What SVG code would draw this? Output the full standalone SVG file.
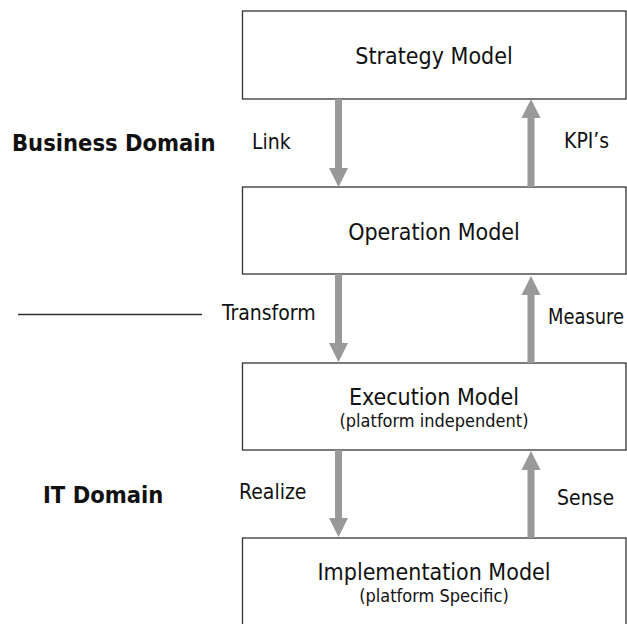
<svg xmlns="http://www.w3.org/2000/svg" width="627" height="624" viewBox="0 0 627 624">
<defs>
<style>
text{font-family:"DejaVu Sans Condensed","DejaVu Sans",sans-serif;font-stretch:condensed;fill:#111;}
.box{fill:#fff;stroke:#333;stroke-width:1.3;}
.t{font-size:23px;text-anchor:middle;}
.s{font-size:18px;text-anchor:middle;}
.l{font-size:21px;}
.b{font-size:23.5px;font-weight:bold;}
.shaft{stroke:#999;stroke-width:7;fill:none;}
.head{fill:#999;}
</style>
</defs>
<rect width="627" height="624" fill="#fff"/>
<g id="strategy"><rect class="box" x="242.5" y="11" width="383.5" height="88"/><text class="t" x="434" y="64">Strategy Model</text></g>
<g id="operation"><rect class="box" x="242.5" y="187" width="383.5" height="87"/><text class="t" x="434" y="240">Operation Model</text></g>
<g id="execution"><rect class="box" x="242.5" y="363" width="383.5" height="87"/><text class="t" x="434" y="405">Execution Model</text><text class="s" x="434" y="427">(platform independent)</text></g>
<g id="implementation"><rect class="box" x="242.5" y="538" width="383.5" height="100"/><text class="t" x="434" y="580">Implementation Model</text><text class="s" x="434" y="602">(platform Specific)</text></g>
<g id="connectors">
<line class="shaft" x1="338.5" y1="99" x2="338.5" y2="169"/><polygon class="head" points="329,168 348,168 338.5,187"/>
<line class="shaft" x1="531" y1="187" x2="531" y2="117"/><polygon class="head" points="521.5,118 540.5,118 531,99"/>
<line class="shaft" x1="338.5" y1="274" x2="338.5" y2="344"/><polygon class="head" points="329,343 348,343 338.5,362"/>
<line class="shaft" x1="531" y1="363" x2="531" y2="293"/><polygon class="head" points="521.5,295 540.5,295 531,276"/>
<line class="shaft" x1="338.5" y1="450" x2="338.5" y2="520"/><polygon class="head" points="329,518 348,518 338.5,537"/>
<line class="shaft" x1="531" y1="538" x2="531" y2="468"/><polygon class="head" points="521.5,470 540.5,470 531,451"/>
</g>
<g id="labels">
<text class="l" x="252" y="149">Link</text>
<text class="l" x="564" y="148">KPI’s</text>
<text class="l" x="222" y="320">Transform</text>
<text class="l" x="548" y="324" textLength="76" lengthAdjust="spacingAndGlyphs">Measure</text>
<text class="l" x="239" y="499">Realize</text>
<text class="l" x="557" y="505">Sense</text>
<text class="b" x="12" y="151">Business Domain</text>
<text class="b" x="43" y="503">IT Domain</text>
<line x1="18" y1="314.5" x2="202" y2="314.5" stroke="#333" stroke-width="1.3"/>
</g>
</svg>
